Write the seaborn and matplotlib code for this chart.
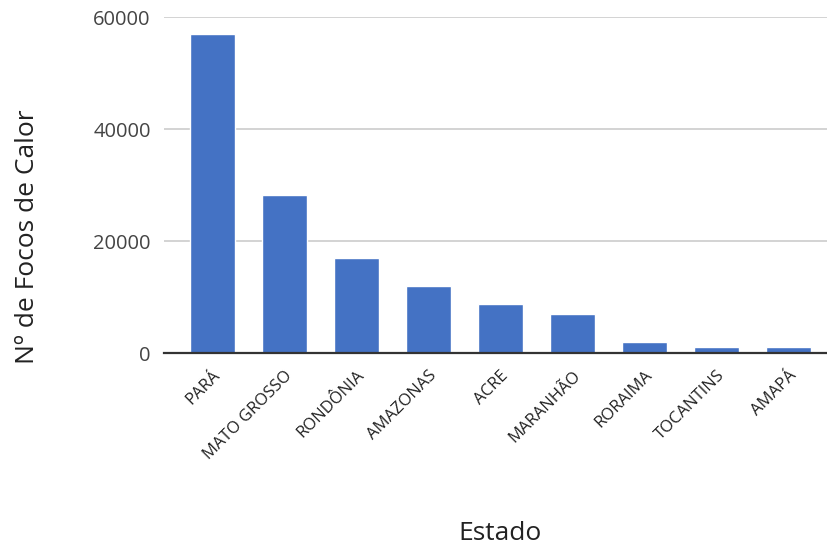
import matplotlib
matplotlib.use("Agg")
import matplotlib.pyplot as plt
import seaborn as sns
import pandas as pd

estados = ["PARÁ", "MATO GROSSO", "RONDÔNIA", "AMAZONAS", "ACRE",
           "MARANHÃO", "RORAIMA", "TOCANTINS", "AMAPÁ"]
focos = [56900, 28200, 16900, 12000, 8800, 7000, 2000, 1130, 1100]
yticks = [0, 20000, 40000, 60000]

df = pd.DataFrame({"Estado": estados, "Focos": focos})

sns.set_theme(style="white")
plt.rcParams["font.family"] = ["Open Sans", "DejaVu Sans"]

fig = plt.figure(figsize=(8.28, 5.49), dpi=100)
ax = fig.add_axes([0.198, 0.357, 0.802, 0.612])

sns.barplot(data=df, x="Estado", y="Focos", color="#4472C4",
            saturation=1, width=0.63, ax=ax, zorder=3)

ax.set_xlim(-0.67, len(estados) - 1 + 0.55)
ax.set_ylim(0, 60000)
ax.set_yticks(yticks)
ax.set_yticklabels([str(v) for v in yticks], fontsize=14.5, color="#444444")
ax.yaxis.grid(True, color="#d0d0d0", linewidth=1.3, zorder=0)
ax.set_axisbelow(True)
ax.tick_params(axis="y", length=0, pad=9.5)
ax.tick_params(axis="x", length=0, pad=10.5)

for lbl in ax.get_xticklabels():
    lbl.set_rotation(45)
    lbl.set_ha("right")
    lbl.set_rotation_mode("anchor")
    lbl.set_fontsize(12)
    lbl.set_color("#222222")

for side in ["top", "right", "left"]:
    ax.spines[side].set_visible(False)
ax.spines["bottom"].set_color("#333333")
ax.spines["bottom"].set_linewidth(1.6)
ax.spines["bottom"].set_zorder(4)

ax.set_xlabel("Estado", fontsize=19, color="#222222", va="center")
ax.xaxis.set_label_coords(0.506, -0.536)
ax.set_ylabel("Nº de Focos de Calor", fontsize=19, color="#222222", va="center")
ax.yaxis.set_label_coords(-0.205, 0.345)

fig.savefig("out.png", dpi=100, facecolor="white")
